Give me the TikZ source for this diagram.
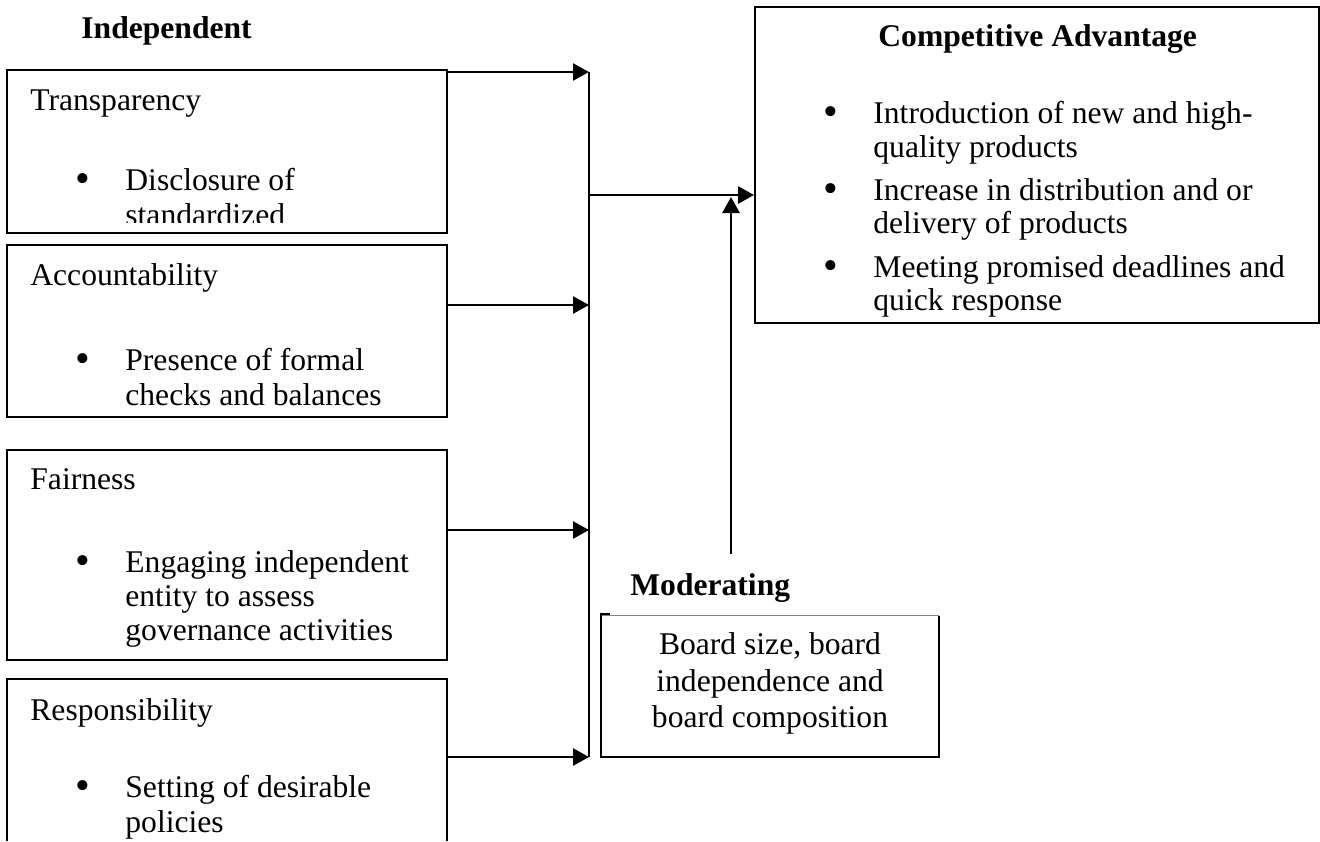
\documentclass[tikz,border=0pt]{standalone}
\usepackage{fontspec}
\setmainfont{Liberation Serif}
\usetikzlibrary{arrows.meta,fit}
\begin{document}
\begin{tikzpicture}[x=0.5pt,y=-0.5pt,
  box/.style={draw=black, line width=1pt, inner sep=0pt},
  frame/.style={inner sep=0pt},
  boxline/.style={line width=1pt},
  txt/.style={inner sep=0pt, anchor=base west, font=\fontsize{15.8}{19}\selectfont},
  head/.style={inner sep=0pt, anchor=base west, font=\fontsize{15.8}{19}\selectfont\bfseries},
  bul/.style={inner sep=0pt, anchor=base, font=\fontsize{21}{24}\selectfont, yshift=-1pt},
  ctr/.style={inner sep=0pt, anchor=base, font=\fontsize{15.8}{19}\selectfont},
  link/.style={line width=1.3pt, -{Triangle[length=8pt,width=8.5pt]}},
  bus/.style={line width=1pt}]
\useasboundingbox (0,0) rectangle (1320,841);

% ---- independent variables ----
\node[head] (indep) at (81,38) {Independent};

\node[box, fit={(7,70) (447,233)}] (trans) {};
\node[txt] (trans-t) at (30,110) {Transparency};
\node[bul] (trans-b) at (83,190) {•};
\begin{scope}
  \clip (7,70) rectangle (447,222.5);
  \node[txt] (trans-1) at (125,190) {Disclosure of};
  \node[txt] (trans-2) at (125,225) {standardized};
\end{scope}

\node[box, fit={(7,245) (447,417)}] (acc) {};
\node[txt] (acc-t) at (30,285) {Accountability};
\node[bul] (acc-b) at (83,370) {•};
\node[txt] (acc-1) at (125,370) {Presence of formal};
\node[txt] (acc-2) at (125,405) {checks and balances};

\node[box, fit={(7,450) (447,660)}] (fair) {};
\node[txt] (fair-t) at (30,489) {Fairness};
\node[bul] (fair-b) at (83,572) {•};
\node[txt] (fair-1) at (125,572) {Engaging independent};
\node[txt] (fair-2) at (125,606) {entity to assess};
\node[txt] (fair-3) at (125,640) {governance activities};

\node[frame, fit={(7,679) (447,841)}] (resp) {};
\draw[boxline] (resp.south west) |- (resp.north east) -- (resp.south east);
\node[txt] (resp-t) at (30,720) {Responsibility};
\node[bul] (resp-b) at (83,797) {•};
\node[txt] (resp-1) at (125,797) {Setting of desirable};
\node[txt] (resp-2) at (125,832) {policies};

% ---- dependent variable ----
\node[box, fit={(755,7) (1319,323)}] (ca) {};
\node[head] (ca-t) at (878,46) {Competitive Advantage};
\node[bul] (ca-b1) at (831,123) {•};
\node[txt] (ca-1) at (873,123) {Introduction of new and high-};
\node[txt] (ca-2) at (873,157) {quality products};
\node[bul] (ca-b2) at (831,200) {•};
\node[txt] (ca-3) at (873,200) {Increase in distribution and or};
\node[txt] (ca-4) at (873,233) {delivery of products};
\node[bul] (ca-b3) at (831,277) {•};
\node[txt] (ca-5) at (873,277) {Meeting promised deadlines and};
\node[txt] (ca-6) at (873,310) {quick response};

% ---- moderating variable ----
\node[head] (modl) at (630,595) {Moderating};
\node[frame, fit={(601,616) (939,757)}] (mod) {};
\draw[gray, line width=0.7pt] (mod.north west) -- (mod.north east);
\draw[boxline] ([xshift=4.5pt,yshift=1pt]mod.north west) -- ([yshift=1pt]mod.north west)
  -- (mod.south west) -- (mod.south east) -- (mod.north east);
\node[ctr] (mod-1) at (770,654) {Board size, board};
\node[ctr] (mod-2) at (770,691) {independence and};
\node[ctr] (mod-3) at (770,727) {board composition};

% ---- connectors ----
\coordinate (in1) at (589,72);
\coordinate (in2) at (589,305);
\coordinate (in3) at (589,530);
\coordinate (in4) at (589,757);
\coordinate (join) at (589,195);
\coordinate (modtail) at (731,554);
\coordinate (modtip) at (731,197);

\draw[bus] (in1) -- (in4);
\draw[link] (trans.east |- in1) -- (in1);
\draw[link] (acc.east |- in2) -- (in2);
\draw[link] (fair.east |- in3) -- (in3);
\draw[link] (resp.east |- in4) -- (in4);
\draw[link] (join) -- (ca.west |- join);
\draw[link] (modtail) -- (modtip);
\end{tikzpicture}
\end{document}
